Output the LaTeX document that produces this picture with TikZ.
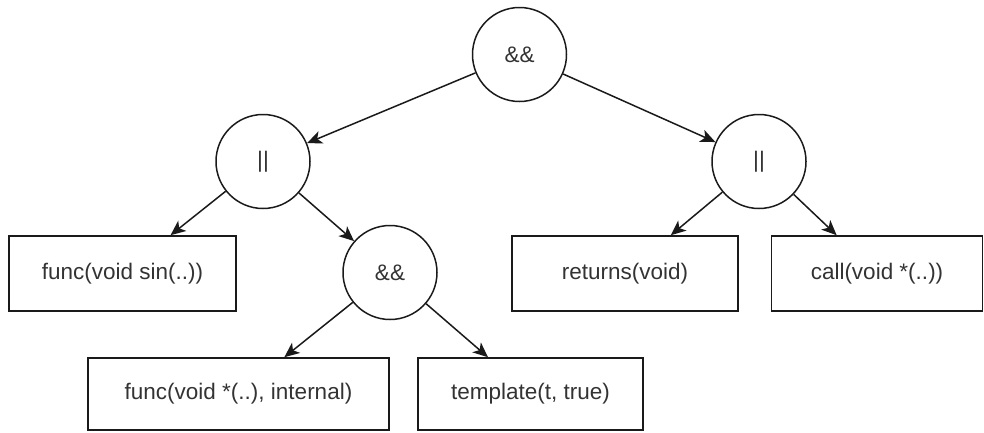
\documentclass[tikz,border=0pt]{standalone}
\usepackage{fontspec}
\setmainfont{Liberation Sans}
\usetikzlibrary{arrows.meta}
\definecolor{ink}{HTML}{1A1A1A}
\definecolor{txt}{HTML}{333333}
\begin{document}
\begin{tikzpicture}[x=1pt,y=-1pt,
  every node/.style={font=\fontsize{22.5}{27}\selectfont, text=txt, inner sep=0pt},
  op/.style={circle, draw=ink, line width=1.5pt, minimum size=94pt},
  leaf/.style={rectangle, draw=ink, line width=1.6pt},
  link/.style={draw=ink, line width=1.5pt, -{Stealth[length=15pt,width=13pt,inset=4pt]}}]
\useasboundingbox (0,0) rectangle (984,432);
% operator nodes
\node[op] (root) at (519.5,54.5) {\&\&};
\node[op] (orL)  at (263,161.5) {||};
\node[op] (orR)  at (759,161.5) {||};
\node[op] (andM) at (390,272.5) {\&\&};
% leaf predicates
\node[leaf, minimum width=227pt, minimum height=75pt] (sin)  at (122.5,273.5) {func(void sin(..))};
\node[leaf, minimum width=226pt, minimum height=75pt] (ret)  at (625,273.5) {returns(void)};
\node[leaf, minimum width=211pt, minimum height=75pt] (call) at (877,273.5) {call(void *(..))};
\node[leaf, minimum width=301pt, minimum height=72pt] (intl) at (238.5,394) {func(void *(..), internal)};
\node[leaf, minimum width=225pt, minimum height=72pt] (tmpl) at (530.5,394) {template(t, true)};
% edges
\draw[link] (root) -- (orL);
\draw[link] (root) -- (orR);
\draw[link] (orL) -- (sin);
\draw[link] (orL) -- (andM);
\draw[link] (andM) -- (intl);
\draw[link] (andM) -- (tmpl);
\draw[link] (orR) -- (ret);
\draw[link] (orR) -- (call);
\end{tikzpicture}
\end{document}
